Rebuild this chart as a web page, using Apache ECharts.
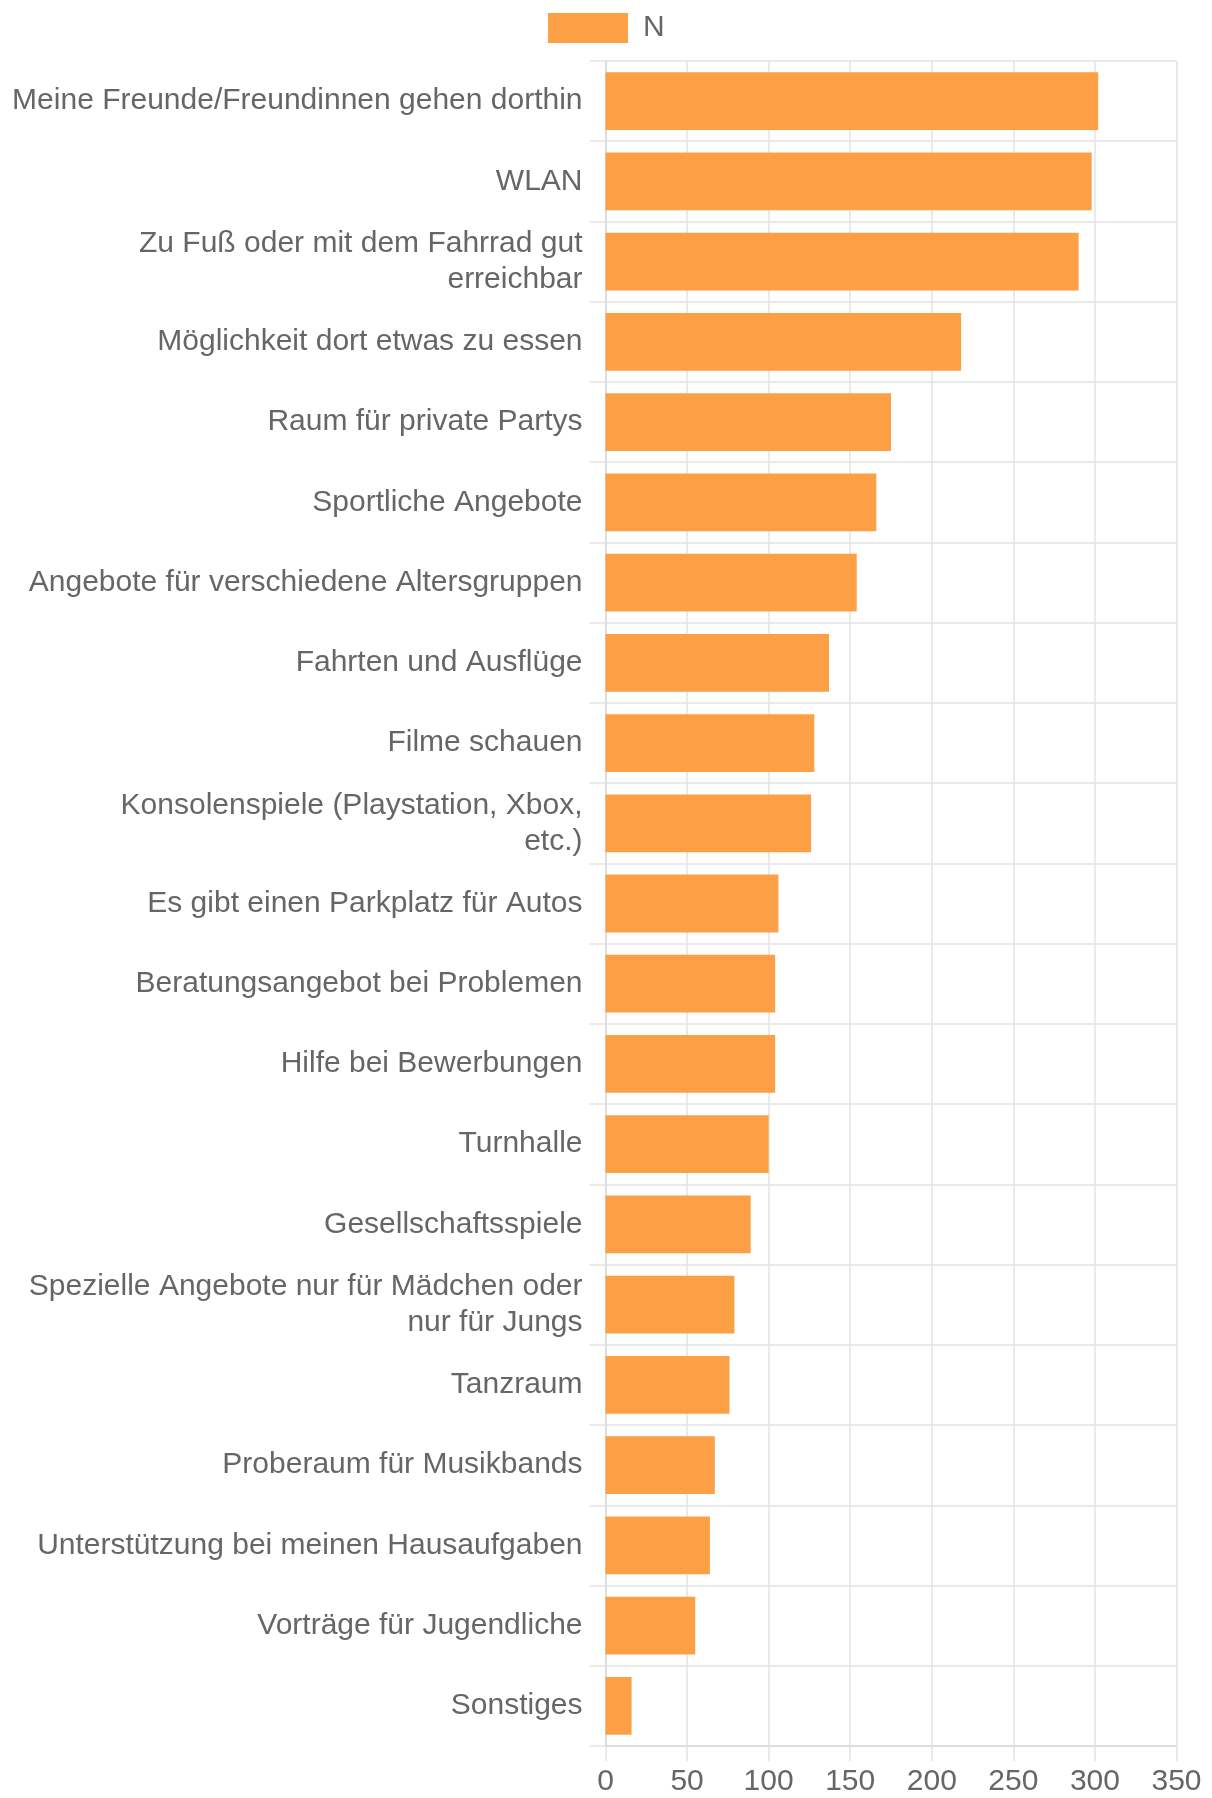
<!DOCTYPE html>
<html>
<head>
<meta charset="utf-8">
<script src="https://cdn.jsdelivr.net/npm/echarts@6/dist/echarts.min.js"></script>
<style>
html,body{margin:0;padding:0;background:#fff;}
#chart{width:1212px;height:1798px;}
</style>
</head>
<body>
<div id="chart"></div>
<script>
const categories = [
  "Meine Freunde/Freundinnen gehen dorthin",
  "WLAN",
  "Zu Fuß oder mit dem Fahrrad gut\nerreichbar",
  "Möglichkeit dort etwas zu essen",
  "Raum für private Partys",
  "Sportliche Angebote",
  "Angebote für verschiedene Altersgruppen",
  "Fahrten und Ausflüge",
  "Filme schauen",
  "Konsolenspiele (Playstation, Xbox,\netc.)",
  "Es gibt einen Parkplatz für Autos",
  "Beratungsangebot bei Problemen",
  "Hilfe bei Bewerbungen",
  "Turnhalle",
  "Gesellschaftsspiele",
  "Spezielle Angebote nur für Mädchen oder\nnur für Jungs",
  "Tanzraum",
  "Proberaum für Musikbands",
  "Unterstützung bei meinen Hausaufgaben",
  "Vorträge für Jugendliche",
  "Sonstiges"
];
const seriesName = "N";
const values = [302, 298, 290, 218, 175, 166, 154, 137, 128, 126, 106, 104, 104, 100, 89, 79, 76, 67, 64, 55, 16];
const xMin = 0, xMax = 350, xStep = 50;

const font = "'Liberation Sans', Arial, sans-serif";
const chart = echarts.init(document.getElementById('chart'));
chart.setOption({
  animation: false,
  backgroundColor: '#ffffff',
  legend: {
    data: [seriesName],
    left: 543,
    top: 8,
    itemWidth: 80,
    itemHeight: 30,
    icon: 'rect',
    textStyle: { fontSize: 30, color: '#666', fontFamily: font, padding: [0, 0, 0, 10] }
  },
  grid: { left: 605.5, right: 35.5, top: 61, bottom: 52, containLabel: false },
  xAxis: {
    type: 'value',
    min: xMin, max: xMax, interval: xStep,
    axisLine: { show: true, lineStyle: { color: '#d9d9d9', width: 1.5 } },
    axisTick: { show: true, length: 15, lineStyle: { color: '#e3e3e3', width: 1.5 } },
    splitLine: { show: true, lineStyle: { color: '#e3e3e3', width: 1.5 } },
    axisLabel: { fontSize: 30, color: '#666', fontFamily: font, margin: 21 }
  },
  yAxis: {
    type: 'category',
    inverse: true,
    data: categories,
    axisLine: { show: true, lineStyle: { color: '#d9d9d9', width: 1.5 } },
    axisTick: { show: true, length: 16, lineStyle: { color: '#e3e3e3', width: 1.5 } },
    splitLine: { show: true, lineStyle: { color: '#e3e3e3', width: 1.5 } },
    axisLabel: { fontSize: 30, color: '#666', fontFamily: font, margin: 23, lineHeight: 36, align: 'right' }
  },
  series: [{
    name: seriesName,
    type: 'bar',
    data: values,
    barCategoryGap: '28%',
    itemStyle: { color: 'rgba(253,155,60,0.96)' }
  }]
});
</script>
</body>
</html>
